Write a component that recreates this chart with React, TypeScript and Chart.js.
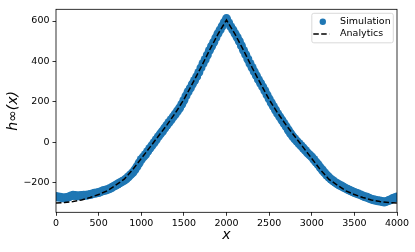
import React, { useEffect, useRef } from "react";
import { Chart, registerables } from "chart.js";

Chart.register(...registerables);

// Simulation samples (x every 25)
const simX: number[] = [
  0, 25, 50, 75, 100, 125, 150, 175, 200, 225, 250, 275, 300, 325, 350, 375, 400, 425, 450, 475,
  500, 525, 550, 575, 600, 625, 650, 675, 700, 725, 750, 775, 800, 825, 850, 875, 900, 925, 950, 975,
  1000, 1025, 1050, 1075, 1100, 1125, 1150, 1175, 1200, 1225, 1250, 1275, 1300, 1325, 1350, 1375, 1400, 1425, 1450, 1475,
  1500, 1525, 1550, 1575, 1600, 1625, 1650, 1675, 1700, 1725, 1750, 1775, 1800, 1825, 1850, 1875, 1900, 1925, 1950, 1975,
  2000, 2025, 2050, 2075, 2100, 2125, 2150, 2175, 2200, 2225, 2250, 2275, 2300, 2325, 2350, 2375, 2400, 2425, 2450, 2475,
  2500, 2525, 2550, 2575, 2600, 2625, 2650, 2675, 2700, 2725, 2750, 2775, 2800, 2825, 2850, 2875, 2900, 2925, 2950, 2975,
  3000, 3025, 3050, 3075, 3100, 3125, 3150, 3175, 3200, 3225, 3250, 3275, 3300, 3325, 3350, 3375, 3400, 3425, 3450, 3475,
  3500, 3525, 3550, 3575, 3600, 3625, 3650, 3675, 3700, 3725, 3750, 3775, 3800, 3825, 3850, 3875, 3900, 3925, 3950, 3975,
  4000,
];
const simY: number[] = [
  -268, -270, -272, -274, -275, -273, -270, -265, -262, -263, -265, -264, -263, -262, -262, -260, -258, -255, -252, -250,
  -248, -244, -240, -237, -234, -230, -225, -218, -212, -206, -200, -194, -188, -180, -170, -160, -150, -136, -120, -102,
  -85, -72, -60, -45, -30, -16, -2, 13, 28, 42, 55, 70, 84, 98, 112, 126, 140, 155, 170, 188,
  208, 230, 250, 268, 288, 306, 325, 346, 368, 390, 410, 432, 455, 475, 495, 517, 538, 556, 575, 594,
  612, 592, 572, 556, 538, 520, 500, 478, 455, 434, 412, 390, 370, 350, 330, 310, 292, 274, 255, 235,
  215, 196, 178, 160, 142, 126, 110, 94, 78, 61, 45, 31, 18, 6, -6, -17, -28, -40, -52, -62,
  -72, -85, -98, -110, -125, -137, -150, -162, -172, -182, -190, -198, -205, -211, -216, -222, -228, -233, -238, -243,
  -248, -252, -256, -260, -265, -269, -272, -277, -281, -284, -287, -289, -290, -293, -295, -292, -288, -284, -278, -274,
  -270,
];

// Analytic curve (x every 100)
const anaX: number[] = [
  0, 100, 200, 300, 400, 500, 600, 700, 800, 900, 1000, 1100, 1200, 1300, 1400, 1500, 1600, 1700, 1800, 1900,
  2000, 2100, 2200, 2300, 2400, 2500, 2600, 2700, 2800, 2900, 3000, 3100, 3200, 3300, 3400, 3500, 3600, 3700, 3800, 3900,
  4000,
];
const anaY: number[] = [
  -300, -298, -293, -285, -273, -258, -240, -212, -182, -135, -80, -25, 30, 85, 145, 212, 290, 370, 455, 535,
  605, 535, 455, 370, 290, 212, 145, 85, 30, -25, -80, -135, -182, -212, -240, -258, -273, -285, -293, -298,
  -300,
];

const xTicks: number[] = [0, 500, 1000, 1500, 2000, 2500, 3000, 3500, 4000];
const yTicks: number[] = [-200, 0, 200, 400, 600];

const seriesLabels: string[] = ["Simulation", "Analytics"];
const xTitle = "x";
const yTitle = "h∞(x)";

const BLUE = "#1f77b4";

const framePlugin = {
  id: "frame",
  afterDatasetsDraw(chart: any) {
    const { ctx, chartArea: a } = chart;
    ctx.save();
    ctx.strokeStyle = "#000";
    ctx.lineWidth = 0.8;
    ctx.strokeRect(a.left, a.top, a.right - a.left, a.bottom - a.top);
    ctx.restore();
  },
};

const legendPlugin = {
  id: "mplLegend",
  afterDraw(chart: any) {
    const { ctx, chartArea: a } = chart;
    const w = 81.5;
    const h = 29.5;
    const x = a.right - 3.7 - w;
    const y = a.top + 4;
    ctx.save();
    const r = 2;
    ctx.beginPath();
    ctx.moveTo(x + r, y);
    ctx.lineTo(x + w - r, y);
    ctx.quadraticCurveTo(x + w, y, x + w, y + r);
    ctx.lineTo(x + w, y + h - r);
    ctx.quadraticCurveTo(x + w, y + h, x + w - r, y + h);
    ctx.lineTo(x + r, y + h);
    ctx.quadraticCurveTo(x, y + h, x, y + h - r);
    ctx.lineTo(x, y + r);
    ctx.quadraticCurveTo(x, y, x + r, y);
    ctx.closePath();
    ctx.fillStyle = "rgba(255,255,255,0.8)";
    ctx.fill();
    ctx.strokeStyle = "#d0d0d0";
    ctx.lineWidth = 0.8;
    ctx.stroke();
    const row1 = y + 8.4;
    const row2 = y + 20.7;
    ctx.fillStyle = BLUE;
    ctx.beginPath();
    ctx.arc(x + 11, row1, 3.2, 0, Math.PI * 2);
    ctx.fill();
    ctx.strokeStyle = "#000";
    ctx.lineWidth = 1.5;
    ctx.setLineDash([5.5, 2.4]);
    ctx.beginPath();
    ctx.moveTo(x + 1.5, row2);
    ctx.lineTo(x + 17.5, row2);
    ctx.stroke();
    ctx.setLineDash([]);
    ctx.fillStyle = "#000";
    ctx.font = "9.5px 'DejaVu Sans'";
    ctx.textBaseline = "middle";
    ctx.textAlign = "left";
    const labels = chart.data.datasets.map((d: any) => d.label);
    ctx.fillText(labels[0], x + 28.3, row1);
    ctx.fillText(labels[1], x + 28.3, row2);
    ctx.restore();
  },
};

const fmt = (v: number) => String(v).replace("-", "\u2212");

export default function App() {
  const ref = useRef<HTMLCanvasElement | null>(null);
  useEffect(() => {
    if (!ref.current) return;
    const chart = new Chart(ref.current, {
      type: "scatter",
      data: {
        datasets: [
          {
            label: seriesLabels[0],
            data: simX.map((x, i) => ({ x, y: simY[i] })),
            backgroundColor: BLUE,
            borderWidth: 0,
            pointRadius: 4.5,
            pointHoverRadius: 4.5,
            order: 2,
            clip: 0,
          } as any,
          {
            label: seriesLabels[1],
            type: "line",
            data: anaX.map((x, i) => ({ x, y: anaY[i] })),
            borderColor: "#000",
            borderWidth: 1.5,
            borderDash: [5.5, 2.4],
            pointRadius: 0,
            showLine: true,
            fill: false,
            tension: 0,
            order: 1,
            clip: 0,
          } as any,
        ],
      },
      options: {
        responsive: false,
        animation: false,
        events: [],
        layout: { padding: { top: 9.3, right: 18, left: 0, bottom: 0 } },
        plugins: { legend: { display: false }, tooltip: { enabled: false } },
        scales: {
          x: {
            type: "linear",
            min: 0,
            max: 4000,
            afterFit: (s: any) => {
              s.height = 39.7;
            },
            afterBuildTicks: (s: any) => {
              s.ticks = xTicks.map((v) => ({ value: v }));
            },
            grid: { drawOnChartArea: false, drawTicks: true, tickLength: 3.5, color: "#000", lineWidth: 0.8 },
            border: { display: false },
            ticks: {
              color: "#000",
              font: { family: "'DejaVu Sans'", size: 9.5 },
              padding: 2,
              maxRotation: 0,
              autoSkip: false,
              callback: (v: any) => fmt(v),
            },
            title: {
              display: true,
              text: xTitle,
              color: "#000",
              font: { family: "'DejaVu Sans'", size: 14, style: "italic" },
              padding: { top: 0, bottom: 7.9 },
            },
          },
          y: {
            type: "linear",
            min: -346,
            max: 658,
            afterFit: (s: any) => {
              s.width = 56;
            },
            afterBuildTicks: (s: any) => {
              s.ticks = yTicks.map((v) => ({ value: v }));
            },
            grid: { drawOnChartArea: false, drawTicks: true, tickLength: 3.5, color: "#000", lineWidth: 0.8 },
            border: { display: false },
            ticks: {
              color: "#000",
              font: { family: "'DejaVu Sans'", size: 9.5 },
              padding: 3,
              autoSkip: false,
              callback: (v: any) => fmt(v),
            },
            title: {
              display: true,
              text: yTitle,
              color: "#000",
              font: { family: "'DejaVu Sans'", size: 14, style: "italic" },
              padding: { top: 5.4, bottom: 0 },
            },
          },
        },
      },
      plugins: [framePlugin, legendPlugin],
    });
    return () => chart.destroy();
  }, []);
  return (
    <div style={{ position: "absolute", left: 0, top: 0, width: 415, height: 252, background: "#fff" }}>
      <canvas ref={ref} width={415} height={252} style={{ display: "block" }} />
    </div>
  );
}
